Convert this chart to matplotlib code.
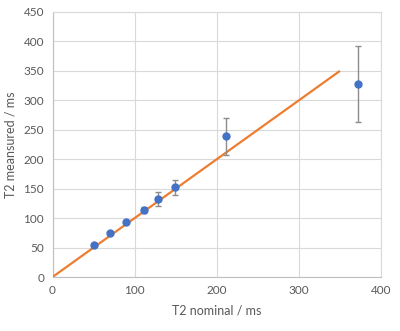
import matplotlib
matplotlib.use("Agg")
import matplotlib.pyplot as plt

plt.rcParams['font.family'] = ['Lato', 'DejaVu Sans']

nominal = [50, 70, 89, 111, 129, 149, 211, 372]
measured = [54, 75, 94, 114, 132, 152, 239, 328]
err = [0, 0, 0, 5, 12, 13, 31, 64]
line_x = [0, 350]
line_y = [0, 350]
xticks = [0, 100, 200, 300, 400]
yticks = [0, 50, 100, 150, 200, 250, 300, 350, 400, 450]

fig = plt.figure(figsize=(4.0, 3.31), dpi=100)
ax = fig.add_axes([52.5/400, 54/331, (381-52.5)/400, (277-12)/331])

ax.plot(line_x, line_y, color='#ED7D31', lw=1.6, zorder=3, solid_capstyle='butt')
ax.errorbar(nominal, measured, yerr=err, fmt='none', ecolor='#8C8C8C', elinewidth=1.0,
            capsize=2.3, capthick=1.0, zorder=4)
ax.plot(nominal, measured, 'o', color='#4472C4', markersize=6, zorder=5, markeredgewidth=0)

ax.set_xlim(0, 400)
ax.set_ylim(0, 450)
ax.set_xticks(xticks)
ax.set_yticks(yticks)
ax.grid(True, color='#D9D9D9', lw=0.8)
ax.set_axisbelow(True)
for s in ['top', 'right']:
    ax.spines[s].set_color('#D9D9D9')
    ax.spines[s].set_linewidth(0.8)
for s in ['left', 'bottom']:
    ax.spines[s].set_color('#BFBFBF')
    ax.spines[s].set_linewidth(0.8)
ax.tick_params(length=0, labelsize=8.5, colors='#595959', pad=6)
ax.set_xlabel('T2 nominal / ms', fontsize=9, color='#595959', labelpad=6)
ax.set_ylabel('T2 meansured / ms', fontsize=9, color='#595959', labelpad=5)

fig.savefig('out.png', dpi=100)
